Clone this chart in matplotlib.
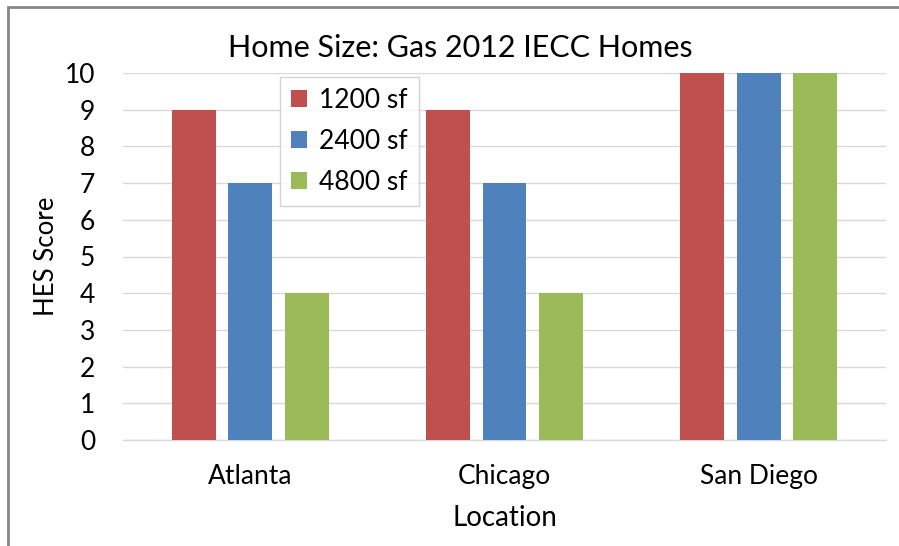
import numpy as np
import matplotlib
matplotlib.use('Agg')
import matplotlib.pyplot as plt
from matplotlib.patches import Rectangle

locations = ['Atlanta', 'Chicago', 'San Diego']
series_names = ['1200 sf', '2400 sf', '4800 sf']
scores_1200 = [9, 9, 10]
scores_2400 = [7, 7, 10]
scores_4800 = [4, 4, 10]
colors = ['#C0504D', '#4F81BD', '#9BBB59']

plt.rcParams['font.family'] = ['Lato', 'DejaVu Sans']

fig = plt.figure(figsize=(8.99, 5.46), dpi=100)
W, H = 899, 546
ax = fig.add_axes([123 / W, 1 - 440 / H, (886 - 123) / W, (440 - 73) / H])

# outer chart border (runs off the right/bottom edge)
fig.patches.append(Rectangle((8 / W, -0.05), 1.2, 1 - 7 / H + 0.05,
                             transform=fig.transFigure, fill=False,
                             edgecolor='#878787', linewidth=2.0))

x = np.arange(len(locations))
width = 0.173
step = 0.2216
for i, (vals, name) in enumerate(zip([scores_1200, scores_2400, scores_4800], series_names)):
    ax.bar(x + (i - 1) * step, vals, width, color=colors[i], label=name, zorder=3)

ax.set_xlim(-0.5, 2.5)
ax.set_ylim(0, 10)
ax.set_yticks(range(0, 11))
ax.yaxis.grid(True, color='#D9D9D9', linewidth=1.0, zorder=0)
ax.set_axisbelow(True)
for s in ['left', 'right', 'top']:
    ax.spines[s].set_visible(False)
ax.spines['bottom'].set_color('#D9D9D9')
ax.spines['bottom'].set_linewidth(1.0)
ax.tick_params(length=0, labelsize=19)
ax.tick_params(axis='y', pad=20)
ax.set_xticks(x)
ax.set_xticklabels(locations)
ax.tick_params(axis='x', pad=17)

# title is centred on the chart area, not the plot area
fig.text(460 / W, 1 - 48 / H, 'Home Size: Gas 2012 IECC Homes', fontsize=22,
         ha='center', va='center')
ax.set_ylabel('HES Score', fontsize=18.5, labelpad=4)
ax.set_xlabel('Location', fontsize=20, labelpad=11.5)

leg = ax.legend(loc='upper left', bbox_to_anchor=((280 - 123) / (886 - 123), 1 - 4 / 367),
                fontsize=19, frameon=True, fancybox=False, handlelength=0.6,
                handleheight=0.6, handletextpad=0.45, labelspacing=0.6,
                borderpad=0.42, borderaxespad=0)
leg.get_frame().set_edgecolor('#C8C8C8')
leg.get_frame().set_linewidth(1.0)

fig.savefig('out.png', dpi=100)
